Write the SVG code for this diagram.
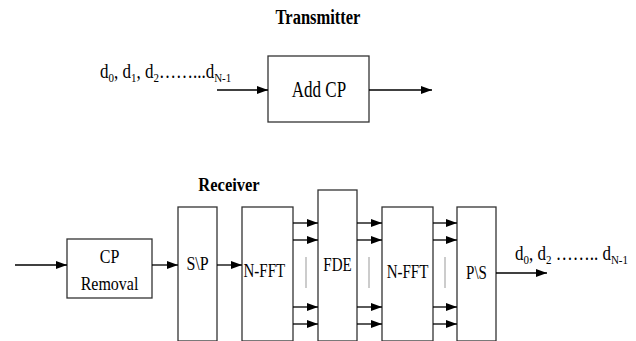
<svg xmlns="http://www.w3.org/2000/svg" width="636" height="341" viewBox="0 0 636 341" font-family="'Liberation Serif', 'Times New Roman', 'DejaVu Serif', serif">
<style>
.box{fill:#fff;stroke:#333;stroke-width:1.3}
.ln{stroke:#000;stroke-width:1.3;fill:none;marker-end:url(#ah)}
.sep{stroke:#999;stroke-width:1}
.t{font-size:15px}
.b{font-size:16.5px;font-weight:bold}
.s{font-size:11px}
</style>
<defs>
<marker id="ah" markerUnits="userSpaceOnUse" markerWidth="11" markerHeight="8" refX="11" refY="4" orient="auto">
<path d="M0,0 L11,4 L0,8 z" fill="#000"/>
</marker>
</defs>
<rect width="636" height="341" fill="#fff"/>

<g id="title-tx"><text class="b" text-anchor="middle" transform="translate(318,24) scale(1,1.25)">Transmitter</text></g>
<g id="label-in"><text font-size="17" transform="translate(100,78) scale(1,1.2)">d<tspan class="s" dy="3">0</tspan><tspan dy="-3">, d</tspan><tspan class="s" dy="3">1</tspan><tspan dy="-3">, d</tspan><tspan class="s" dy="3">2</tspan><tspan dy="-3">……...d</tspan><tspan class="s" dy="3">N-1</tspan></text></g>
<g id="addcp"><rect class="box" x="268" y="56" width="101" height="66"/><text font-size="17" text-anchor="middle" transform="translate(319,97) scale(1,1.3)">Add CP</text></g>

<g id="title-rx"><text class="b" text-anchor="middle" transform="translate(229,191) scale(1,1.2)">Receiver</text></g>
<g id="cpremoval"><rect class="box" x="67" y="239" width="85" height="59"/>
<text font-size="16" text-anchor="middle" transform="translate(109.5,263) scale(1,1.2)">CP</text>
<text font-size="16" text-anchor="middle" transform="translate(109.5,290) scale(1,1.2)">Removal</text></g>
<g id="sp"><rect class="box" x="178" y="207" width="39" height="134"/><text font-size="16" text-anchor="middle" transform="translate(197.5,270) scale(1,1.2)">S\P</text></g>
<g id="nfft1"><rect class="box" x="242" y="207" width="51" height="134"/><text class="t" transform="translate(243.5,277) scale(1,1.2)">N-FFT</text></g>
<g id="fde"><rect class="box" x="318" y="190" width="39" height="151"/><text class="t" text-anchor="middle" transform="translate(337.5,271) scale(1,1.25)">FDE</text></g>
<g id="nfft2"><rect class="box" x="382" y="207" width="51" height="134"/><text class="t" text-anchor="middle" transform="translate(407.5,278) scale(1,1.25)">N-FFT</text></g>
<g id="ps"><rect class="box" x="457" y="207" width="39" height="134"/><text class="t" text-anchor="middle" transform="translate(476.5,279) scale(1,1.25)">P\S</text></g>
<g id="label-out"><text font-size="17" transform="translate(515,260) scale(1,1.2)">d<tspan class="s" dy="3">0</tspan><tspan dy="-3">, d</tspan><tspan class="s" dy="3">2</tspan><tspan dy="-3"> …….. d</tspan><tspan class="s" dy="3">N-1</tspan></text></g>

<g id="connectors">
<line class="ln" x1="217" y1="90" x2="268" y2="90"/>
<line class="ln" x1="369" y1="90" x2="432" y2="90"/>
<line class="ln" x1="15" y1="265" x2="67" y2="265"/>
<line class="ln" x1="152" y1="265" x2="178" y2="265"/>
<line class="ln" x1="217" y1="265" x2="242" y2="265"/>
<line class="ln" x1="293" y1="223" x2="318" y2="223"/>
<line class="ln" x1="293" y1="240" x2="318" y2="240"/>
<line class="ln" x1="293" y1="307" x2="318" y2="307"/>
<line class="ln" x1="293" y1="324" x2="318" y2="324"/>
<line class="ln" x1="357" y1="223" x2="382" y2="223"/>
<line class="ln" x1="357" y1="240" x2="382" y2="240"/>
<line class="ln" x1="357" y1="307" x2="382" y2="307"/>
<line class="ln" x1="357" y1="324" x2="382" y2="324"/>
<line class="ln" x1="433" y1="223" x2="457" y2="223"/>
<line class="ln" x1="433" y1="240" x2="457" y2="240"/>
<line class="ln" x1="433" y1="307" x2="457" y2="307"/>
<line class="ln" x1="433" y1="324" x2="457" y2="324"/>
<line class="ln" x1="496" y1="273" x2="547" y2="273"/>
<line class="sep" x1="306" y1="257" x2="306" y2="288"/>
<line class="sep" x1="369" y1="257" x2="369" y2="288"/>
<line class="sep" x1="445" y1="257" x2="445" y2="288"/>
</g>
</svg>
